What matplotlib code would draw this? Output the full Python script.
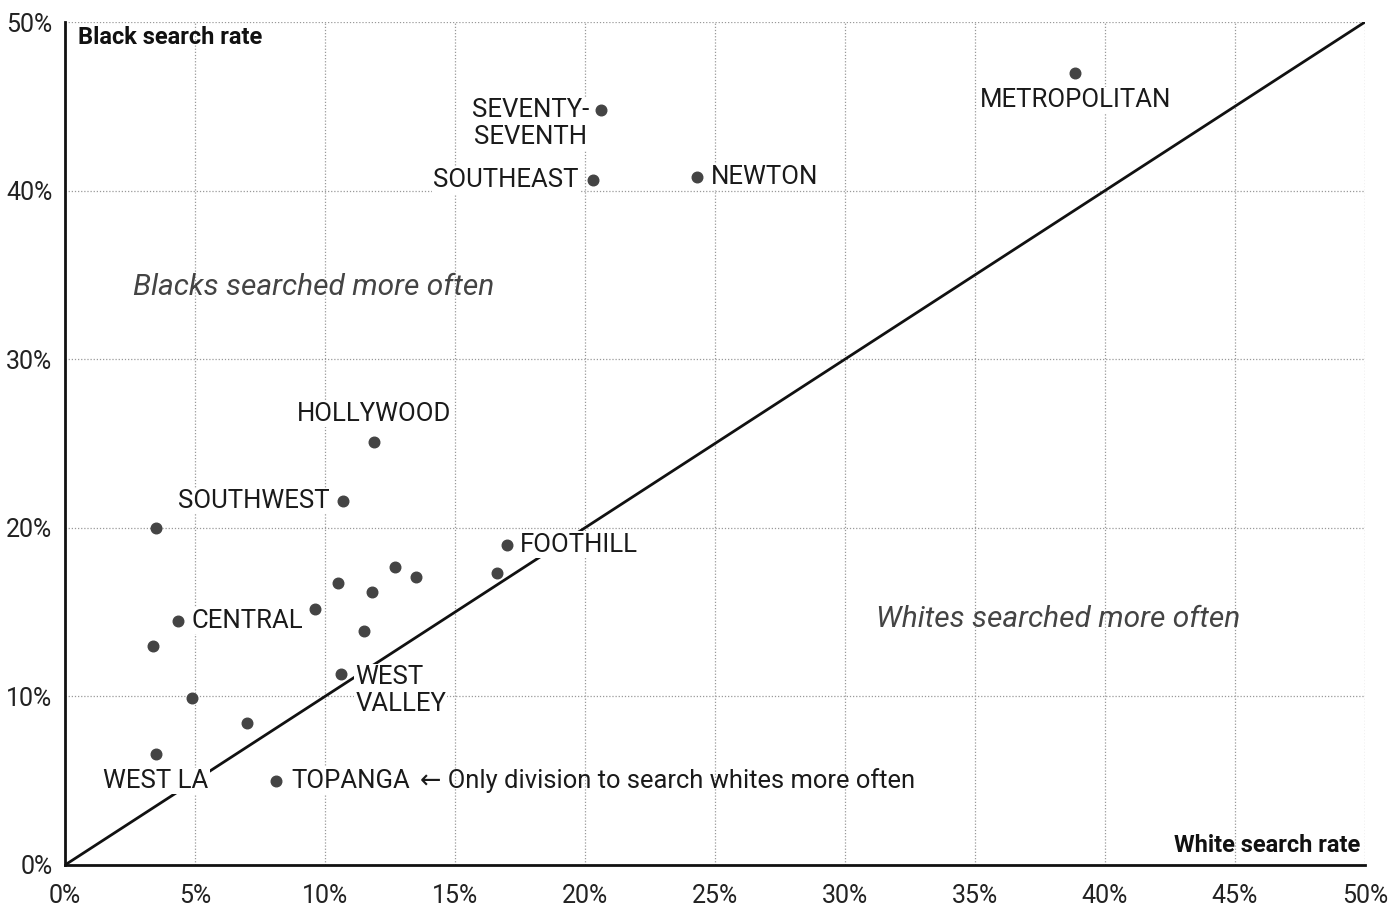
import matplotlib
matplotlib.use("Agg")
import matplotlib.pyplot as plt
from matplotlib.ticker import FuncFormatter

plt.rcParams['font.family'] = ['Roboto', 'DejaVu Sans']

# ---- data (percent) ----
divisions = ["METROPOLITAN", "SEVENTY-\nSEVENTH", "SOUTHEAST", "NEWTON", "HOLLYWOOD",
             "SOUTHWEST", "", "FOOTHILL", "", "", "", "", "", "",
             "CENTRAL", "", "", "WEST\nVALLEY", "", "", "WEST LA", "TOPANGA"]
white_rate = [38.85, 20.6, 20.3, 24.3, 11.9, 10.7, 3.5, 17.0, 16.6, 13.5, 12.7, 10.5,
              11.8, 9.6, 4.35, 11.5, 3.4, 10.6, 4.9, 7.0, 3.5, 8.1]
black_rate = [47.0, 44.8, 40.6, 40.8, 25.1, 21.6, 20.0, 19.0, 17.3, 17.1, 17.7, 16.7,
              16.2, 15.2, 14.5, 13.9, 13.0, 11.3, 9.9, 8.4, 6.6, 5.0]
x_ticks = [0, 5, 10, 15, 20, 25, 30, 35, 40, 45, 50]
y_ticks = [0, 10, 20, 30, 40, 50]

# label placement: (dx, dy in points, ha, multialignment)
placement = {
    "METROPOLITAN": (0, -20, "center", "center"),
    "SEVENTY-\nSEVENTH": (-8, -10, "right", "center"),
    "SOUTHEAST": (-10, 0, "right", "center"),
    "NEWTON": (10, 0, "left", "center"),
    "HOLLYWOOD": (0, 20, "center", "center"),
    "SOUTHWEST": (-10, 0, "right", "center"),
    "FOOTHILL": (9.5, 0, "left", "center"),
    "CENTRAL": (9.5, 0, "left", "center"),
    "WEST\nVALLEY": (10.5, -11.5, "left", "left"),
    "WEST LA": (0, -19.5, "center", "center"),
    "TOPANGA": (11, 0, "left", "center"),
}

fig = plt.figure(figsize=(13.92, 9.11), dpi=100)
ax = fig.add_axes([65/1392, 46/911, 1300/1392, 843/911])
ax.set_xlim(0, 50)
ax.set_ylim(0, 50)

ax.set_xticks(x_ticks)
ax.set_yticks(y_ticks)
fmt = FuncFormatter(lambda v, p: f"{v:.0f}%")
ax.xaxis.set_major_formatter(fmt)
ax.yaxis.set_major_formatter(fmt)
ax.tick_params(length=0, labelsize=18, colors="#222222")
ax.tick_params(axis="x", pad=14)
ax.tick_params(axis="y", pad=9)
ax.grid(True, linestyle=(0, (1, 1.5)), color="#999999", linewidth=0.9)
ax.set_axisbelow(True)
for s in ["top", "right"]:
    ax.spines[s].set_visible(False)
for s in ["left", "bottom"]:
    ax.spines[s].set_linewidth(2)
    ax.spines[s].set_color("#111111")
    ax.spines[s].set_zorder(5)

# equality line
ax.plot([0, 50], [0, 50], color="#111111", linewidth=2, zorder=2)

ax.scatter(white_rate, black_rate, s=58, color="#444444", zorder=4)

for name, x, y in zip(divisions, white_rate, black_rate):
    if not name:
        continue
    dx, dy, ha, ma = placement[name]
    ax.annotate(name, (x, y), xytext=(dx, dy), textcoords="offset points",
                ha=ha, va="center", fontsize=18.5, color="#1a1a1a", multialignment=ma,
                linespacing=1.15, zorder=3,
                bbox=dict(boxstyle="square,pad=0.05", fc="white", ec="none"))

ax.annotate("\u2190 Only division to search whites more often",
            (white_rate[-1], black_rate[-1]), xytext=(104, 0), textcoords="offset points",
            ha="left", va="center", fontsize=18.4, color="#1a1a1a", zorder=3)

ax.text(0.01, 0.995, "Black search rate", transform=ax.transAxes, ha="left", va="top",
        fontsize=17, fontweight="bold", color="#111111")
ax.text(0.996, 0.0095, "White search rate", transform=ax.transAxes, ha="right", va="bottom",
        fontsize=17, fontweight="bold", color="#111111")

ax.text(2.6, 34.3, "Blacks searched more often", ha="left", va="center",
        fontsize=21.5, style="italic", color="#444444")
ax.text(31.2, 14.6, "Whites searched more often", ha="left", va="center",
        fontsize=21.5, style="italic", color="#444444")

fig.savefig("out.png", dpi=100, facecolor="white")
